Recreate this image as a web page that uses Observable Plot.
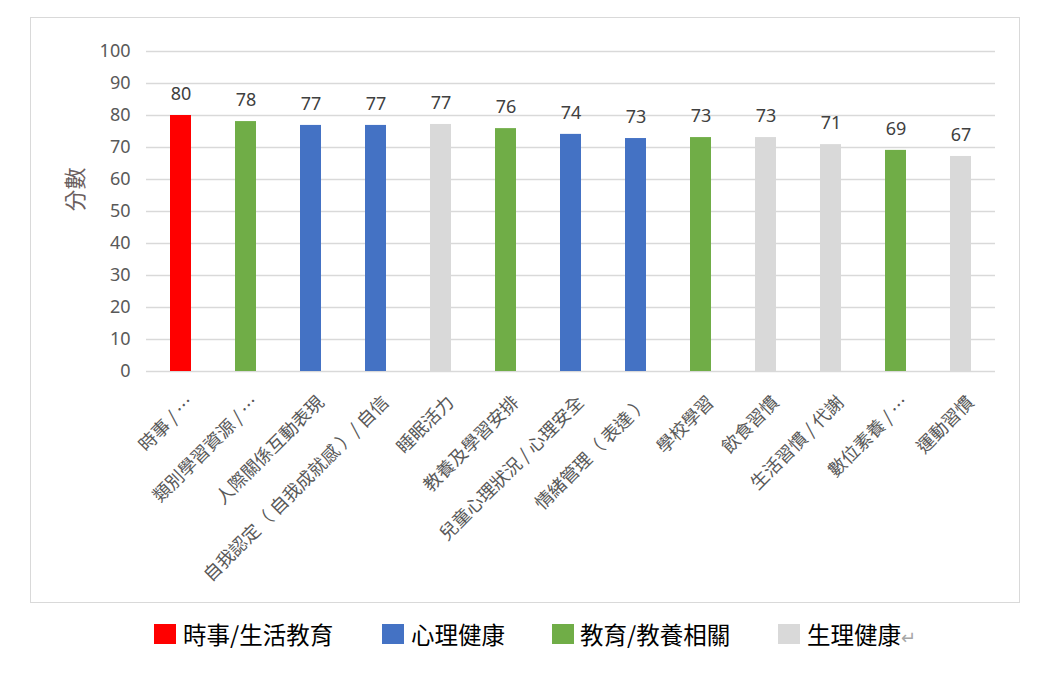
<!DOCTYPE html>
<html>
<head>
<meta charset="utf-8">
<script src="https://cdn.jsdelivr.net/npm/d3@7"></script>
<script src="https://cdn.jsdelivr.net/npm/@observablehq/plot@0.6"></script>
<style>
  html, body { margin: 0; padding: 0; background: #fff; }
  #wrap { position: relative; width: 1054px; height: 677px; font-family: "Noto Sans", "Noto Sans CJK TC", sans-serif; }
  #frame { position: absolute; left: 30px; top: 17px; width: 990px; height: 586px; border: 1.5px solid #d9d9d9; box-sizing: border-box; }
  #chart { position: absolute; left: 0; top: 0; }
  #legend { position: absolute; left: 0; top: 619px; width: 1054px; height: 30px; }
  .sw { position: absolute; top: 5px; width: 22px; height: 20px; }
  .lt { position: absolute; top: 0; height: 30px; line-height: 30px; font-family: "Noto Sans CJK TC", sans-serif; font-size: 23.5px; color: #000; white-space: nowrap; }
  .ret { color: #a6a6a6; font-size: 18px; }
</style>
</head>
<body>
<div id="wrap">
  <div id="frame"></div>
  <div id="chart"></div>
  <div id="legend"></div>
</div>
<script>
const categories = ["時事 / …", "類別學習資源 / …", "人際關係互動表現", "自我認定（ 自我成就感 ）/ 自信", "睡眠活力", "教養及學習安排", "兒童心理狀況 / 心理安全", "情緒管理（ 表達 ）", "學校學習", "飲食習慣", "生活習慣 / 代謝", "數位素養 / …", "運動習慣"];
const scores = [80, 78.1, 76.9, 76.9, 77.2, 75.9, 74.1, 72.8, 73.1, 73.1, 70.9, 69.1, 67.2];
const groups = ["時事/生活教育", "教育/教養相關", "心理健康", "心理健康", "生理健康", "教育/教養相關", "心理健康", "心理健康", "教育/教養相關", "生理健康", "生理健康", "教育/教養相關", "生理健康"];
const legendGroups = ["時事/生活教育", "心理健康", "教育/教養相關", "生理健康"];
const groupColors = ["#ff0000", "#4472c4", "#70ad47", "#d9d9d9"];
const yTicks = [0, 10, 20, 30, 40, 50, 60, 70, 80, 90, 100];

const data = categories.map((c, i) => ({category: c, score: scores[i], group: groups[i]}));

const plot = Plot.plot({
  width: 1054,
  height: 610,
  marginLeft: 146,
  marginRight: 59,
  marginTop: 51,
  marginBottom: 239,
  style: {fontFamily: "'Noto Sans', 'Noto Sans CJK TC', sans-serif", background: "transparent"},
  x: {domain: categories, paddingInner: 0.68, paddingOuter: 0.34, axis: null},
  y: {domain: [0, 100], ticks: yTicks, label: null, axis: null},
  color: {domain: legendGroups, range: groupColors},
  marks: [
    Plot.gridY(yTicks, {stroke: "#d9d9d9", strokeOpacity: 1, strokeWidth: 1.5}),
    Plot.barY(data, {x: "category", y: "score", fill: "group"}),
    Plot.axisY(yTicks, {tickSize: 0, tickPadding: 16, fontSize: 18, fill: "#595959", label: null}),
    Plot.text(data, {x: "category", y: "score", text: d => d3.format(".0f")(d.score), dy: -21, fontSize: 18, fill: "#404040"}),
    Plot.text(data, {x: "category", y: () => 0, text: "category", rotate: -45, textAnchor: "end", lineAnchor: "middle", dx: 10, dy: 28, fontSize: 18, fill: "#595959", fontFamily: "'Noto Sans CJK TC', sans-serif"}),
    Plot.text(["分數"], {frameAnchor: "left", dx: -71, text: d => d, rotate: -90, fontSize: 22, fill: "#6b5e5e", fontFamily: "'Noto Sans CJK TC', sans-serif"})
  ]
});
document.getElementById("chart").appendChild(plot);

const swatchX = [154, 382, 552, 778];
const labelX = [183, 411, 580, 807];
const legend = document.getElementById("legend");
legendGroups.forEach((g, i) => {
  const sw = document.createElement("div");
  sw.className = "sw";
  sw.style.left = swatchX[i] + "px";
  sw.style.background = groupColors[i];
  legend.appendChild(sw);
  const t = document.createElement("div");
  t.className = "lt";
  t.style.left = labelX[i] + "px";
  t.textContent = g;
  if (i === legendGroups.length - 1) {
    const r = document.createElement("span");
    r.className = "ret";
    r.textContent = "↵";
    t.appendChild(r);
  }
  legend.appendChild(t);
});
</script>
</body>
</html>
